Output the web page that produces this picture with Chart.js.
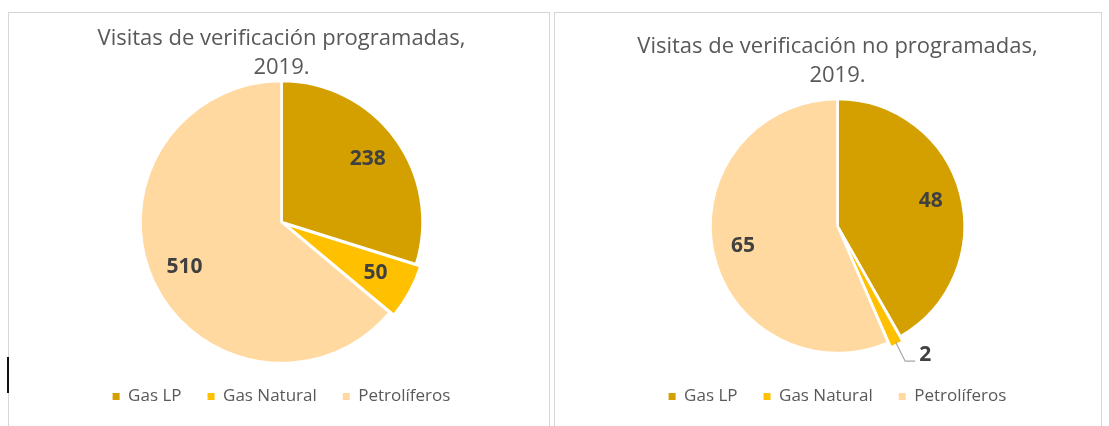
<!DOCTYPE html>
<html>
<head>
<meta charset="utf-8">
<script src="https://cdn.jsdelivr.net/npm/chart.js@4/dist/chart.umd.min.js"></script>
<style>
  html, body { margin: 0; padding: 0; background: #fff; overflow: hidden; }
  .panel { position: absolute; border: 1px solid #d6d6d6; background: #fff; }
  .panel canvas { position: absolute; left: 0; top: 0; }
  .mark { position: absolute; left: 7px; top: 357px; width: 2px; height: 36px; background: #111; }
</style>
</head>
<body>
<div class="panel" style="left:8px; top:12px; width:540px; height:430px;">
  <canvas id="chartProg" width="540" height="420"></canvas>
</div>
<div class="panel" style="left:554px; top:12px; width:546px; height:430px;">
  <canvas id="chartNoProg" width="546" height="420"></canvas>
</div>
<div class="mark"></div>
<script>
const categories = ['Gas LP', 'Gas Natural', 'Petrolíferos'];
const programadas = [238, 50, 510];
const noProgramadas = [48, 2, 65];
const sliceColors = ['#D4A000', '#FFC000', '#FFD9A0'];
const sliceOffsets = [0, 12, 0];

const FONT = '"Open Sans", "Noto Sans", sans-serif';

// Data labels inside the slices, small slices go outside with a leader line
const pieLabels = {
    id: 'pieLabels',
    afterDatasetsDraw(chart) {
        const ctx = chart.ctx;
        const meta = chart.getDatasetMeta(0);
        const values = chart.data.datasets[0].data;
        const total = values.reduce((a, b) => a + b, 0);
        ctx.save();
        ctx.font = 'bold 21px ' + FONT;
        ctx.fillStyle = '#404040';
        meta.data.forEach((arc, i) => {
            const p = arc.getProps(['x', 'y', 'startAngle', 'endAngle', 'outerRadius'], true);
            const mid = (p.startAngle + p.endAngle) / 2;
            const cos = Math.cos(mid), sin = Math.sin(mid);
            if (values[i] / total < 0.03) {
                const x0 = p.x + cos * (p.outerRadius + 3);
                const y0 = p.y + sin * (p.outerRadius + 3);
                const x1 = p.x + cos * p.outerRadius * 1.19;
                const y1 = p.y + sin * p.outerRadius * 1.19;
                ctx.strokeStyle = '#a6a6a6';
                ctx.lineWidth = 1.2;
                ctx.beginPath();
                ctx.moveTo(x0, y0);
                ctx.lineTo(x1, y1);
                ctx.lineTo(x1 + 10, y1);
                ctx.stroke();
                ctx.textAlign = 'left';
                ctx.textBaseline = 'middle';
                ctx.fillText(values[i], x1 + 14, y1 - 6);
            } else {
                ctx.textAlign = 'center';
                ctx.textBaseline = 'middle';
                const r = p.outerRadius * 0.76;
                ctx.fillText(values[i], p.x + cos * r, p.y + sin * r);
            }
        });
        ctx.restore();
    }
};

function makePie(id, values, title, radius, pad, titlePad) {
    return new Chart(document.getElementById(id), {
        type: 'pie',
        data: {
            labels: categories,
            datasets: [{
                data: values,
                backgroundColor: sliceColors,
                borderColor: '#ffffff',
                borderWidth: 2.5,
                offset: sliceOffsets
            }]
        },
        options: {
            responsive: false,
            animation: false,
            radius: radius,
            layout: { padding: pad },
            plugins: {
                title: {
                    display: true,
                    text: title,
                    color: '#595959',
                    font: { family: FONT, size: 22, weight: 'normal', lineHeight: 1.32 },
                    padding: titlePad
                },
                legend: {
                    position: 'bottom',
                    labels: {
                        color: '#595959',
                        font: { family: FONT, size: 17 },
                        boxWidth: 7,
                        boxHeight: 7,
                        padding: 26,
                        generateLabels: (chart) => Chart.overrides.pie.plugins.legend.labels.generateLabels(chart)
                            .map(l => ({ ...l, lineWidth: 0 }))
                    }
                },
                tooltip: { enabled: false }
            }
        },
        plugins: [pieLabels]
    });
}

makePie('chartProg', programadas,
    ['Visitas de verificación programadas,', '2019.'],
    141, { left: 5, right: 0, top: 0, bottom: 18 }, { top: 11, bottom: 0 });

makePie('chartNoProg', noProgramadas,
    ['Visitas de verificación no programadas,', '2019.'],
    127, { left: 19, right: 0, top: 0, bottom: 18 }, { top: 19, bottom: 0 });
</script>
</body>
</html>
